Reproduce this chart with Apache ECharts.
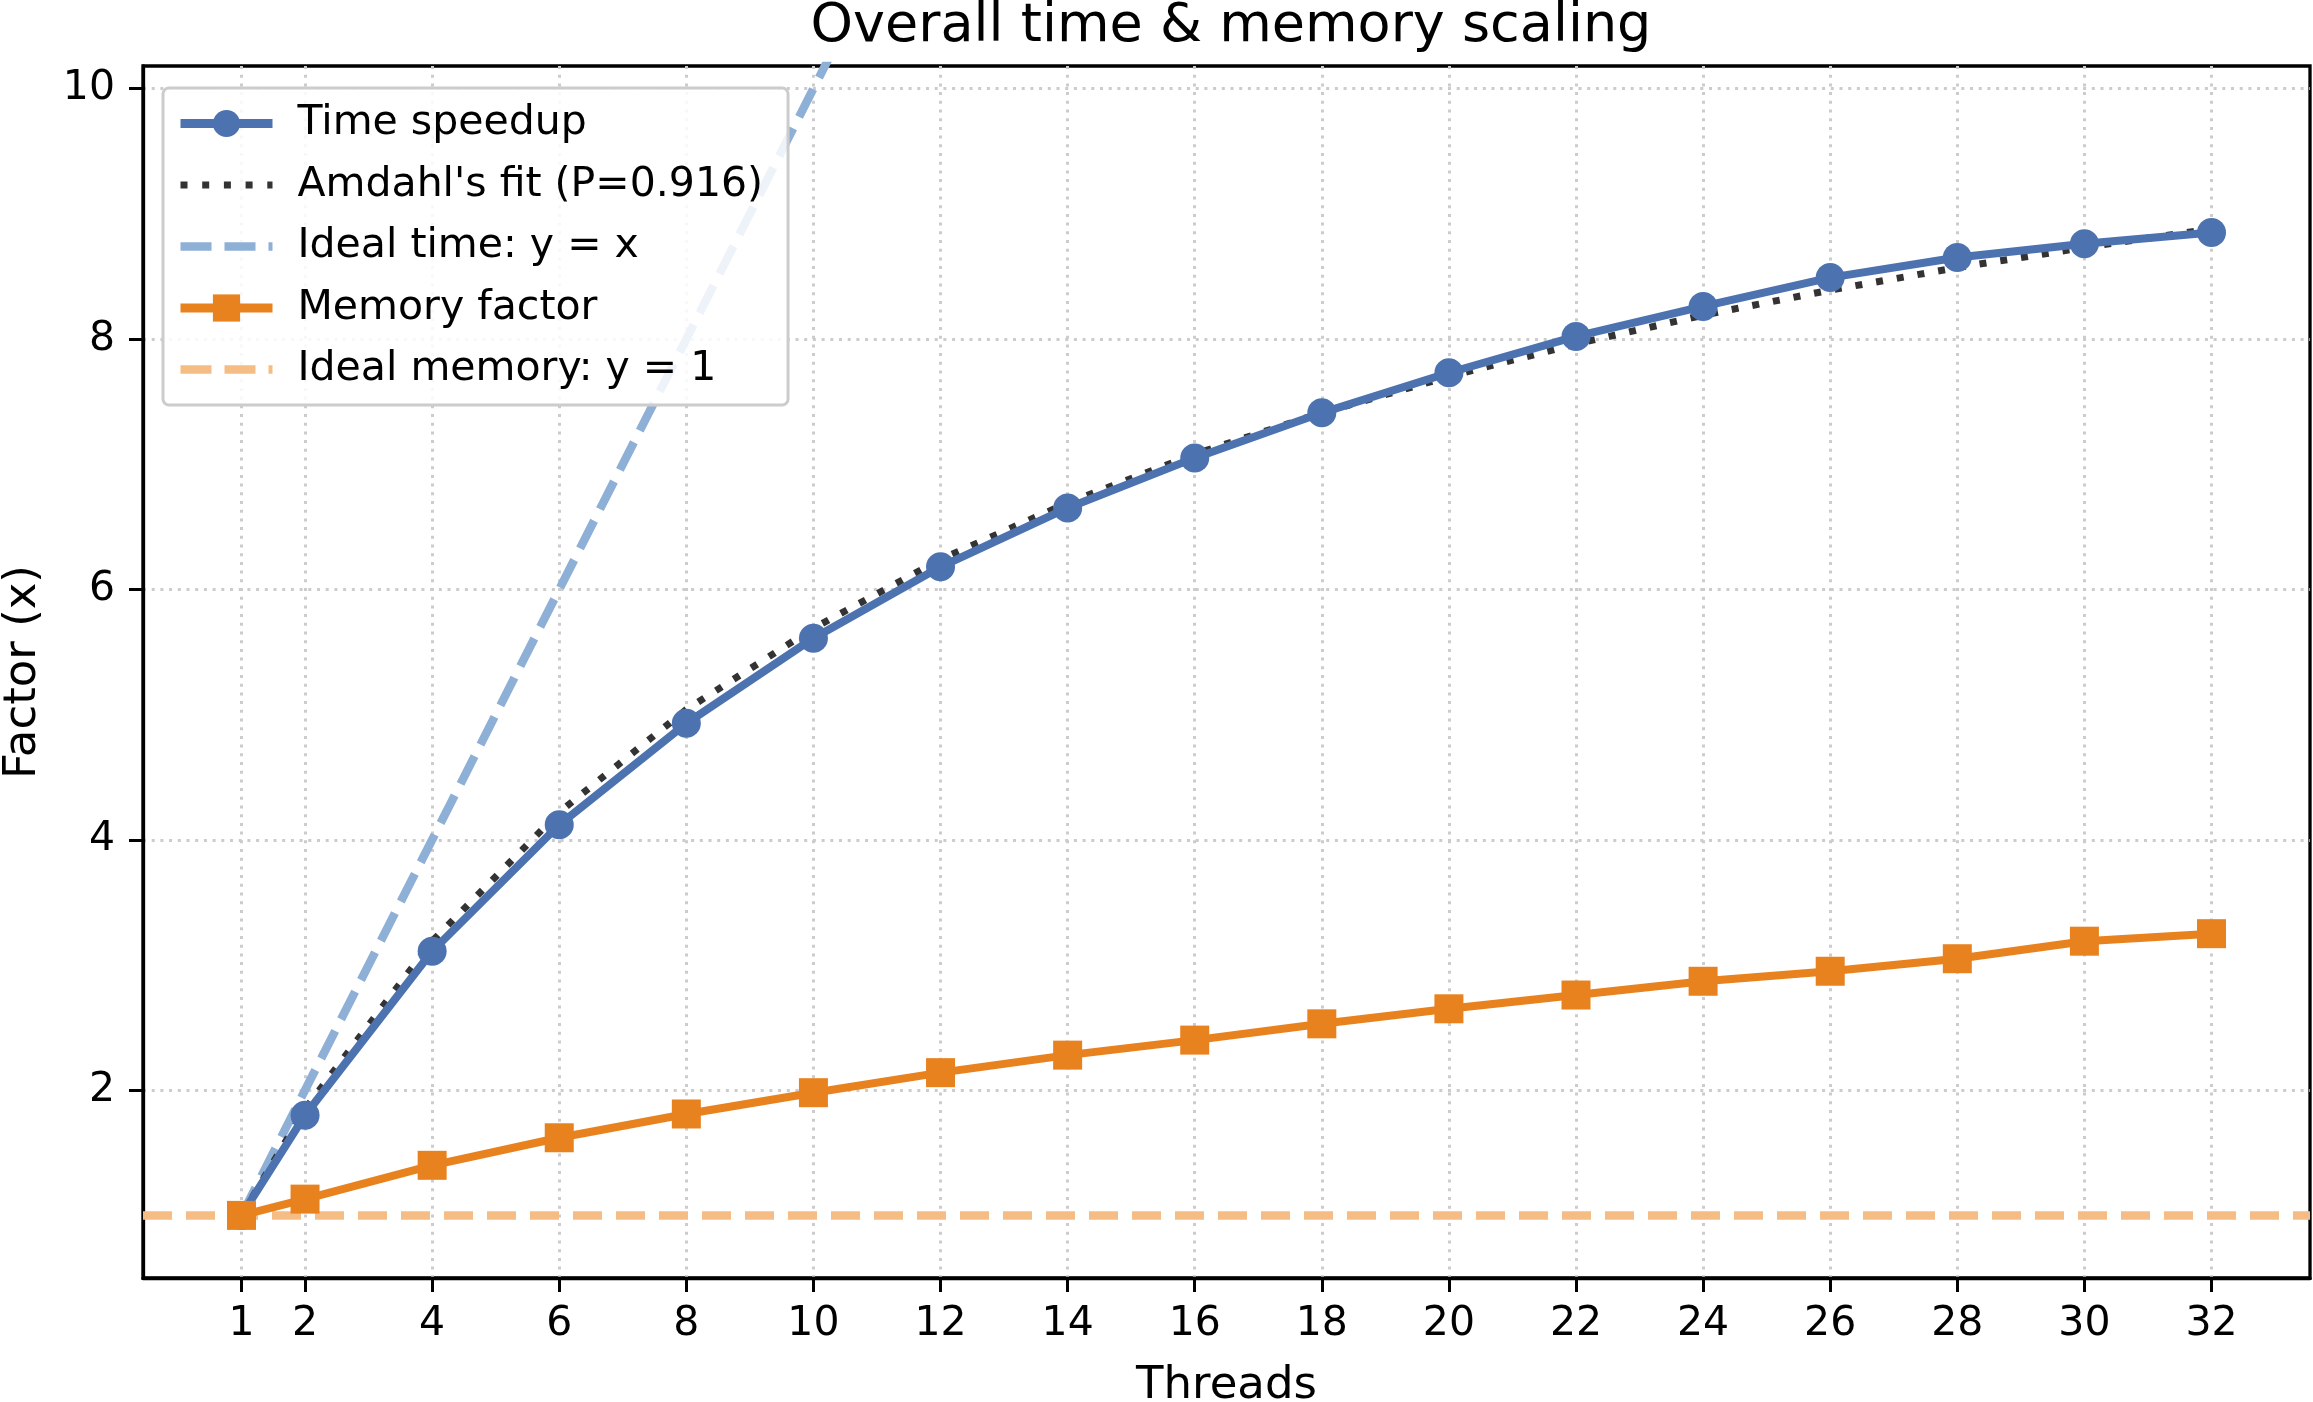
<!DOCTYPE html>
<html>
<head>
<meta charset="utf-8">
<title>Overall time & memory scaling</title>
<script src="https://cdn.jsdelivr.net/npm/echarts@6/dist/echarts.min.js"></script>
<style>
  html, body { margin: 0; padding: 0; background: #fff; }
  #chart { width: 2313px; height: 1402px; }
</style>
</head>
<body>
<div id="chart"></div>
<script>
// thread counts on the x axis
var threads = [1, 2, 4, 6, 8, 10, 12, 14, 16, 18, 20, 22, 24, 26, 28, 30, 32];
var timeSpeedup = [1.00, 1.80, 3.11, 4.12, 4.93, 5.61, 6.18, 6.65, 7.05, 7.41, 7.73, 8.02, 8.26, 8.49, 8.65, 8.76, 8.85];
// Amdahl fit curve, P = 0.916
var amdahlFit = [1.00, 1.85, 3.19, 4.22, 5.04, 5.69, 6.24, 6.69, 7.08, 7.41, 7.70, 7.96, 8.19, 8.39, 8.57, 8.73, 8.88];
// ideal time scaling y = x
var idealTime = [1, 2, 4, 6, 8, 10, 12, 14, 16, 18, 20, 22, 24, 26, 28, 30, 32];
// memory factor
var memoryFactor = [1.00, 1.13, 1.40, 1.62, 1.81, 1.98, 2.14, 2.28, 2.40, 2.53, 2.65, 2.76, 2.87, 2.95, 3.05, 3.19, 3.25];
var idealMemory = 1;
var yTicks = [2, 4, 6, 8, 10];

var FONT = "DejaVu Sans";

// colours
var BLUE = '#4c72b0', ORANGE = '#e8821e', FIT = '#333333', LIGHT_BLUE = '#8fb0d6', LIGHT_ORANGE = '#f5bd84';

function pairs(ys) {
  return threads.map(function (t, i) { return [t, ys[i]]; });
}

var gridLine = { show: true, lineStyle: { color: '#cccccc', width: 3, type: [3, 5.7] } };

var chart = echarts.init(document.getElementById('chart'));

var option = {
  backgroundColor: '#ffffff',
  animation: false,
  title: {
    text: 'Overall time & memory scaling',
    left: 1226,
    textAlign: 'center',
    top: -5,
    textStyle: { fontFamily: FONT, fontSize: 54, fontWeight: 'normal', color: '#000' }
  },
  grid: {
    left: 143, right: 3, top: 66, bottom: 124,
    containLabel: false, outerBoundsMode: 'none',
    show: true, borderColor: '#000', borderWidth: 3.3, backgroundColor: 'transparent'
  },
  legend: {
    orient: 'vertical',
    left: 163, top: 88,
    padding: [15, 25, 15, 13],
    itemWidth: 92, itemHeight: 34, itemGap: 20.5,
    backgroundColor: 'rgba(255,255,255,0.85)',
    borderColor: '#cccccc', borderWidth: 3, borderRadius: 6,
    textStyle: { fontFamily: FONT, fontSize: 41, color: '#000', padding: [0, 0, 0, 20], lineHeight: 41 },
    data: [
      { name: 'Time speedup', lineStyle: { width: 9, color: BLUE } },
      { name: "Amdahl's fit (P=0.916)", lineStyle: { width: 7, color: FIT, type: [7, 14.7] }, itemStyle: { opacity: 0 } },
      { name: 'Ideal time: y = x', lineStyle: { width: 8.7, color: LIGHT_BLUE, type: [31, 13] }, itemStyle: { opacity: 0 } },
      { name: 'Memory factor', lineStyle: { width: 9, color: ORANGE } },
      { name: 'Ideal memory: y = 1', lineStyle: { width: 8.7, color: LIGHT_ORANGE, type: [31, 13] }, itemStyle: { opacity: 0 } }
    ]
  },
  xAxis: {
    type: 'value',
    min: -0.55, max: 33.55,
    name: 'Threads', nameLocation: 'middle', nameGap: 86,
    nameTextStyle: { fontFamily: FONT, fontSize: 45, color: '#000' },
    axisLine: { show: true, onZero: false, lineStyle: { color: '#000', width: 3.3 } },
    axisTick: { show: true, length: 14, lineStyle: { color: '#000', width: 3 }, customValues: threads },
    axisLabel: { customValues: threads, margin: 26, fontFamily: FONT, fontSize: 41, color: '#000' },
    splitLine: gridLine
  },
  yAxis: {
    type: 'value',
    min: 0.5, max: 10.18,
    name: 'Factor (x)', nameLocation: 'middle', nameGap: 97, nameRotate: 90,
    nameTextStyle: { fontFamily: FONT, fontSize: 45, color: '#000' },
    axisLine: { show: true, onZero: false, lineStyle: { color: '#000', width: 3.3 } },
    axisTick: { show: true, length: 14, lineStyle: { color: '#000', width: 3 }, customValues: yTicks },
    axisLabel: { customValues: yTicks, margin: 28, fontFamily: FONT, fontSize: 41, color: '#000' },
    splitLine: gridLine
  },
  series: [
    {
      name: 'Time speedup',
      type: 'line',
      data: pairs(timeSpeedup),
      z: 4,
      symbol: 'circle', symbolSize: 29,
      lineStyle: { color: BLUE, width: 8 },
      itemStyle: { color: BLUE }
    },
    {
      name: "Amdahl's fit (P=0.916)",
      type: 'line',
      data: pairs(amdahlFit),
      z: 3,
      showSymbol: false, symbol: 'none',
      lineStyle: { color: FIT, width: 7, type: [7, 14] },
      itemStyle: { color: FIT }
    },
    {
      name: 'Ideal time: y = x',
      type: 'line',
      data: pairs(idealTime),
      z: 2, clip: true,
      showSymbol: false, symbol: 'none',
      lineStyle: { color: LIGHT_BLUE, width: 8.5, type: [31, 13] },
      itemStyle: { color: LIGHT_BLUE }
    },
    {
      name: 'Memory factor',
      type: 'line',
      data: pairs(memoryFactor),
      z: 5,
      symbol: 'rect', symbolSize: 29,
      lineStyle: { color: ORANGE, width: 8 },
      itemStyle: { color: ORANGE }
    },
    {
      name: 'Ideal memory: y = 1',
      type: 'line',
      data: [],
      z: 2,
      showSymbol: false, symbol: 'none',
      lineStyle: { color: LIGHT_ORANGE, width: 8.5, type: [29, 14] },
      itemStyle: { color: LIGHT_ORANGE },
      markLine: {
        silent: true, symbol: 'none', animation: false,
        label: { show: false },
        lineStyle: { color: LIGHT_ORANGE, width: 8.5, type: [29, 14] },
        data: [{ yAxis: idealMemory }]
      }
    }
  ]
};

chart.setOption(option);
</script>
</body>
</html>
